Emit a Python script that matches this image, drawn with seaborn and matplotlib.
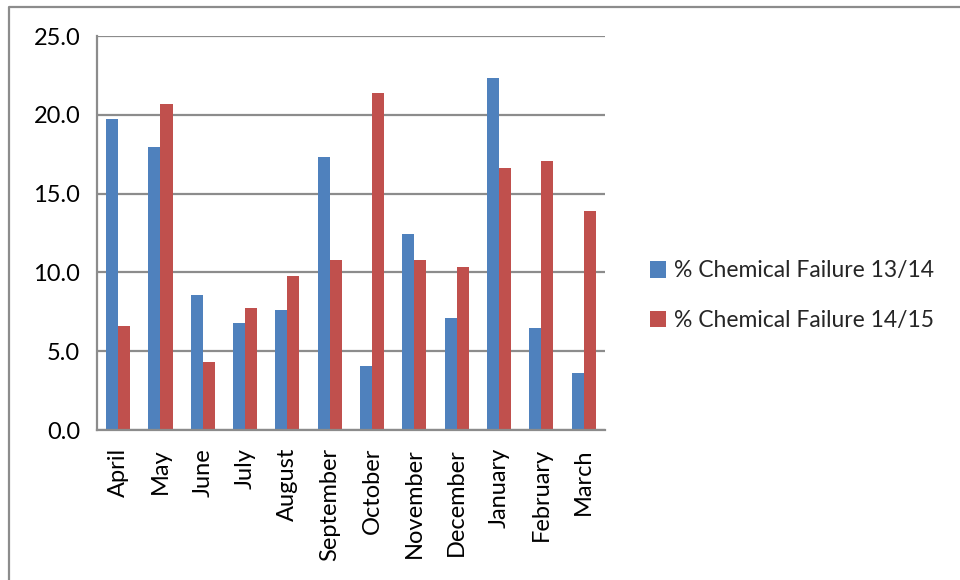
import matplotlib
matplotlib.use("Agg")
import matplotlib.pyplot as plt
from matplotlib.lines import Line2D
from matplotlib.patches import Patch
import seaborn as sns
import pandas as pd

months = ["April", "May", "June", "July", "August", "September", "October",
          "November", "December", "January", "February", "March"]
failure_13_14 = [19.73, 17.98, 8.58, 6.77, 7.64, 17.30, 4.04, 12.45, 7.09, 22.36, 6.50, 3.64]
failure_14_15 = [6.61, 20.71, 4.30, 7.75, 9.78, 10.78, 21.41, 10.80, 10.33, 16.64, 17.07, 13.91]
series_names = ["% Chemical Failure 13/14", "% Chemical Failure 14/15"]
y_ticks = [0, 5, 10, 15, 20, 25]

df = pd.DataFrame({
    "month": months * 2,
    "value": failure_13_14 + failure_14_15,
    "series": [series_names[0]] * len(months) + [series_names[1]] * len(months),
})

sns.set_theme(style="white")
plt.rcParams["font.family"] = ["Lato", "DejaVu Sans"]

colors = ["#4F81BD", "#C0504D"]
grid_gray = "#8C8C8C"
fs = 17

fig = plt.figure(figsize=(9.6, 5.8), dpi=100)
ax = fig.add_axes([0.101, 0.2586, 0.529, 0.6793])

sns.barplot(data=df, x="month", y="value", hue="series", order=months,
            hue_order=series_names, palette=colors, width=0.57, ax=ax,
            legend=False, saturation=1, edgecolor="none", linewidth=0)

ax.set_ylim(0, 25)
ax.set_xlim(-0.5, len(months) - 0.5)
ax.set_yticks(y_ticks)
ax.set_yticklabels([f"{v:.1f}" for v in y_ticks], fontsize=fs)
ax.yaxis.grid(True, color=grid_gray, linewidth=1.6)
ax.set_axisbelow(True)
ax.set_xlabel("")
ax.set_ylabel("")

for side in ["top", "right"]:
    ax.spines[side].set_visible(False)
for side in ["left", "bottom"]:
    ax.spines[side].set_color(grid_gray)
    ax.spines[side].set_linewidth(1.6)

# category boundary ticks on the x axis, labels centered under each group
ax.set_xticks([i + 0.5 for i in range(-1, len(months))], minor=True)
ax.set_xticks(range(len(months)))
ax.set_xticklabels(months, rotation=90, fontsize=fs)
ax.tick_params(axis="x", which="major", length=0, pad=13)
ax.tick_params(axis="x", which="minor", length=6, width=1.6, color=grid_gray, direction="out")
ax.tick_params(axis="y", length=6, width=1.6, color=grid_gray, direction="out", pad=6,
               labelcolor="black")
ax.tick_params(axis="x", labelcolor="black")

handles = [Patch(facecolor=c, edgecolor="none") for c in colors]
fig.legend(handles, series_names, loc="center left", bbox_to_anchor=(0.66, 0.490),
           frameon=False, fontsize=16.5, handlelength=0.72, handleheight=0.72,
           handletextpad=0.35, labelspacing=1.25, borderpad=0.2)

# chart frame (top and left edges)
fig.add_artist(Line2D([9 / 960, 9 / 960, 1.0], [0.0, 1 - 7 / 580, 1 - 7 / 580],
                      transform=fig.transFigure, color=grid_gray, linewidth=1.6))

fig.savefig("out.png", dpi=100, facecolor="white")
